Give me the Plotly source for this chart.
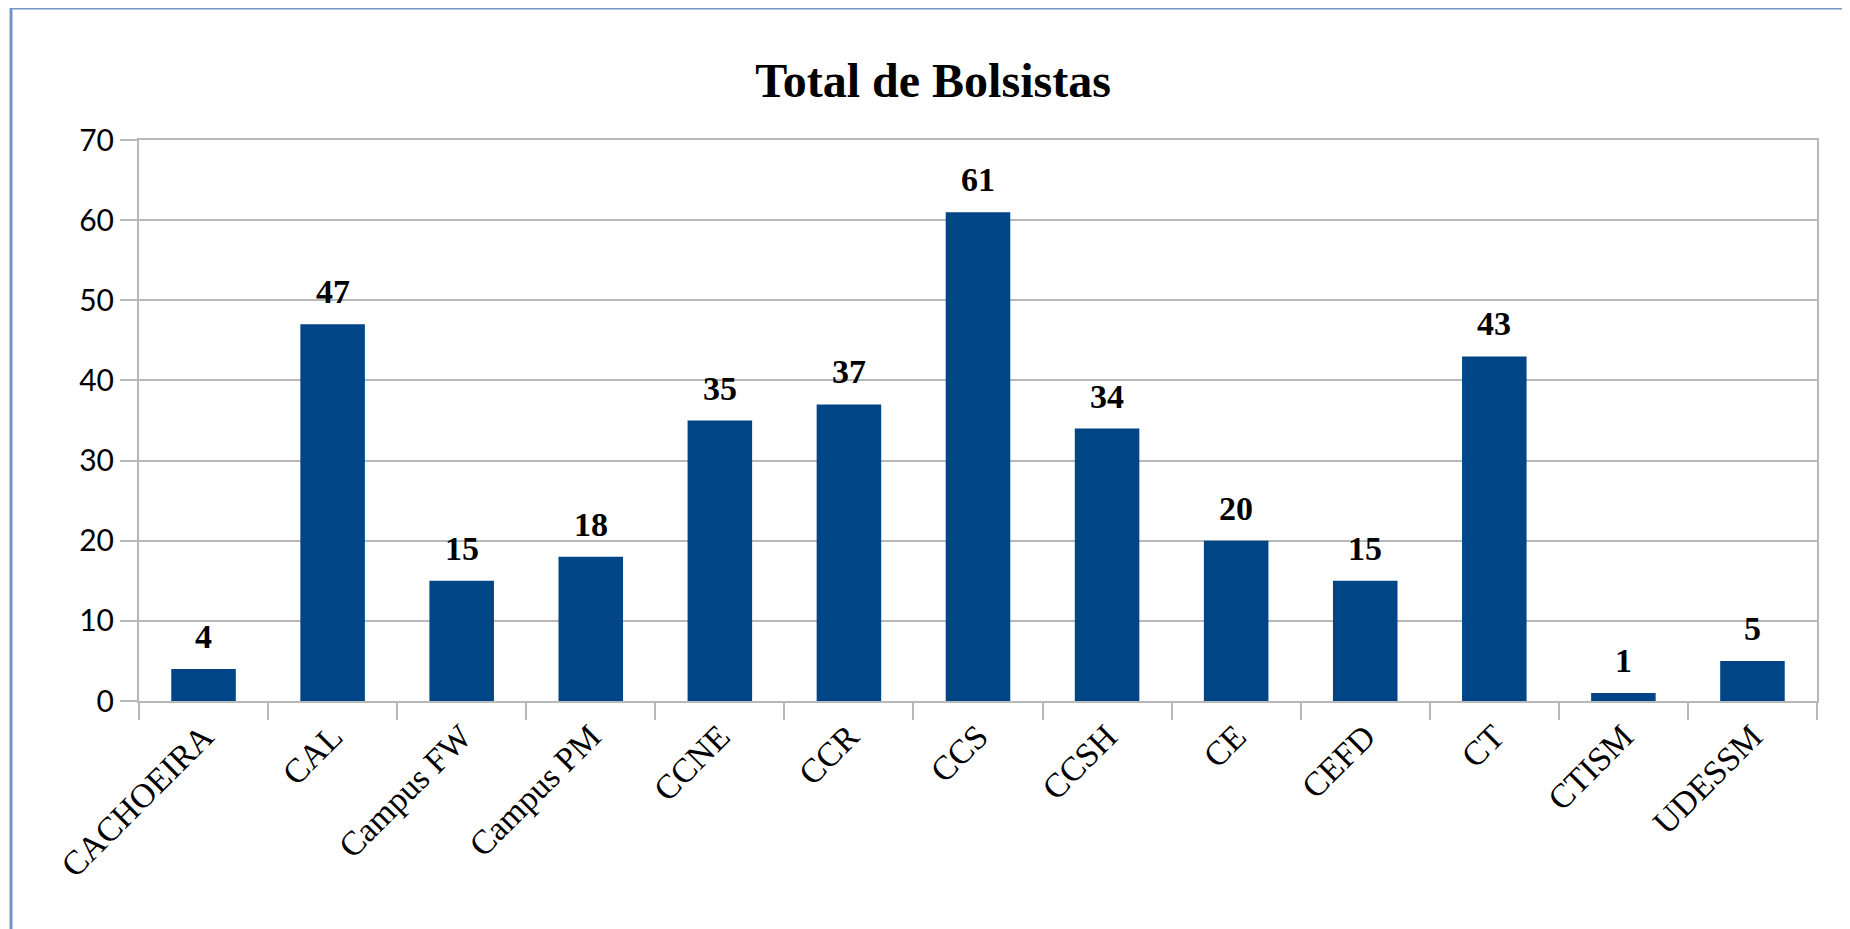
import plotly.graph_objects as go

categories = ["CACHOEIRA", "CAL", "Campus FW", "Campus PM", "CCNE", "CCR", "CCS",
              "CCSH", "CE", "CEFD", "CT", "CTISM", "UDESSM"]
values = [4, 47, 15, 18, 35, 37, 61, 34, 20, 15, 43, 1, 5]
y_ticks = [0, 10, 20, 30, 40, 50, 60, 70]

# page has an 8px body margin, so the figure is offset by 8px
OFF = 8
W, H = 1850 - OFF, 929 - OFF
L, R, T, B = 139 - OFF, 33, 140 - OFF, 228
pw, ph = W - L - R, H - T - B

def px_x(p):
    return (p - OFF - L) / pw

def px_y(p):
    return (H - B - (p - OFF)) / ph

fig = go.Figure()
fig.add_trace(go.Bar(
    x=categories, y=values,
    marker=dict(color="#004586", line=dict(width=0)),
    width=0.5,
    hoverinfo="x+y",
))

for c, v in zip(categories, values):
    fig.add_annotation(
        x=c, y=v, text="<b>%d</b>" % v, showarrow=False,
        xref="x", yref="y", yanchor="bottom", yshift=12,
        font=dict(family="Liberation Serif", size=34, color="#000000"),
    )

border = "#7494c4"
fig.add_shape(type="line", xref="paper", yref="paper",
              x0=px_x(11), x1=px_x(11), y0=px_y(8), y1=px_y(H + 40),
              line=dict(color=border, width=3))
fig.add_shape(type="line", xref="paper", yref="paper",
              x0=px_x(10), x1=px_x(W + 40), y0=px_y(8), y1=px_y(8),
              line=dict(color=border, width=3))

grid = "#b8b8b8"
fig.update_layout(
    width=W, height=H,
    margin=dict(l=L, r=R, t=T, b=B, autoexpand=False),
    paper_bgcolor="white", plot_bgcolor="white",
    showlegend=False,
    title=dict(text="<b>Total de Bolsistas</b>", x=(933 - OFF) / W, xref="container",
               xanchor="center", y=1 - (80 - OFF) / H, yref="container", yanchor="middle",
               font=dict(family="Liberation Serif", size=48, color="#000000")),
    xaxis=dict(
        type="category", tickson="boundaries", ticks="outside", ticklen=17,
        tickwidth=2, tickcolor=grid, showline=True, linecolor=grid, linewidth=2,
        mirror=True, showgrid=False, tickangle=-45,
        tickfont=dict(family="Liberation Serif", size=34, color="#000000"),
    ),
    yaxis=dict(
        range=[0, 70], tickvals=y_ticks, ticktext=[str(t) for t in y_ticks],
        ticks="outside", ticklen=17, tickwidth=2, tickcolor=grid,
        showline=True, linecolor=grid, linewidth=2, mirror=True,
        showgrid=True, gridcolor=grid, gridwidth=2, zeroline=False,
        tickfont=dict(family="Lato", size=30, color="#000000"),
        ticklabelstandoff=0,
    ),
)

fig.write_html("out.html")
